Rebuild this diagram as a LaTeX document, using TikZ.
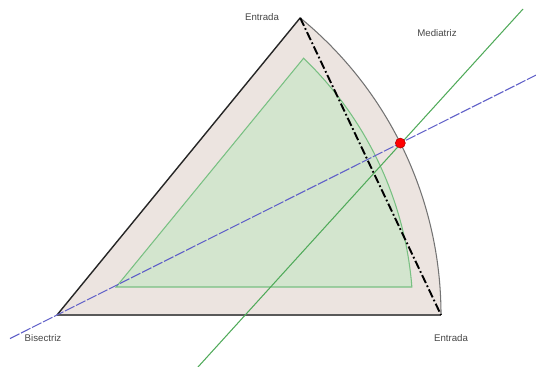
\documentclass[tikz,border=0pt]{standalone}
\usepackage{fontspec}
\setmainfont{Liberation Sans}
\usetikzlibrary{calc}
\definecolor{outerfill}{RGB}{236,228,224}
\definecolor{innerfill}{RGB}{211,229,206}
\definecolor{innerline}{RGB}{120,192,130}
\definecolor{bisline}{RGB}{95,95,200}
\definecolor{medline}{RGB}{80,170,90}
\definecolor{labelgrey}{RGB}{70,70,70}
\tikzset{
  lbl/.style={font=\fontsize{5.5}{6}\selectfont, text=labelgrey, inner sep=0pt},
  outeredge/.style={draw=black!85, line width=0.8pt},
  arcedge/.style={draw=black!55, line width=0.6pt},
  chord/.style={draw=black, line width=1.1pt, dash pattern=on 5pt off 1.5pt on 1pt off 1.5pt},
  bisstyle/.style={draw=bisline, line width=0.6pt, dash pattern=on 6pt off 1pt},
  medstyle/.style={draw=medline, line width=0.6pt},
  dotstyle/.style={circle, fill=red, draw=red!70!black, line width=0.3pt, minimum size=0.2cm, inner sep=0pt}
}
\begin{document}
\begin{tikzpicture}
\useasboundingbox (0,0) rectangle (10.72,7.34);
% key points
\coordinate (A) at (1.14,1.04);
\coordinate (T) at ($(A)+(50.7:7.68)$);
\coordinate (C) at ($(A)+(7.68,0)$);
\coordinate (iL) at (2.322,1.60);
\coordinate (iT) at ($(A)+(46.16:7.12)$);
\coordinate (iC) at ($(A)+(4.51:7.12)$);
\coordinate (bL) at (0.2,0.569);
\coordinate (bR) at (10.72,5.837);
\coordinate (mB) at (3.96,0);
\coordinate (mT) at (10.46,7.16);
% outer shape
\fill[outerfill] (A) -- (T) arc[start angle=50.7, end angle=0, radius=7.68] -- cycle;
\draw[arcedge] (T) arc[start angle=50.7, end angle=0, radius=7.68];
\draw[outeredge] (A) -- (T);
\draw[draw=black!65, line width=0.9pt] (A) -- (C);
% inner shape
\filldraw[fill=innerfill, draw=innerline, line width=0.6pt] (iL) -- (iT) arc[start angle=46.16, end angle=4.51, radius=7.12] -- cycle;
% chord
\draw[chord] (T) -- (C);
% bisector and mediatrix
\draw[bisstyle] (bL) -- (bR);
\draw[medstyle] (mB) -- (mT);
% red dot
\node[dotstyle] (P) at ($(A)+(26.6:7.68)$) {};
% labels
\node[lbl] (l1) at (5.24,7.0) {Entrada};
\node[lbl] (l2) at (8.74,6.68) {Mediatriz};
\node[lbl] (l3) at (0.86,0.58) {Bisectriz};
\node[lbl] (l4) at (9.02,0.58) {Entrada};
\end{tikzpicture}
\end{document}
